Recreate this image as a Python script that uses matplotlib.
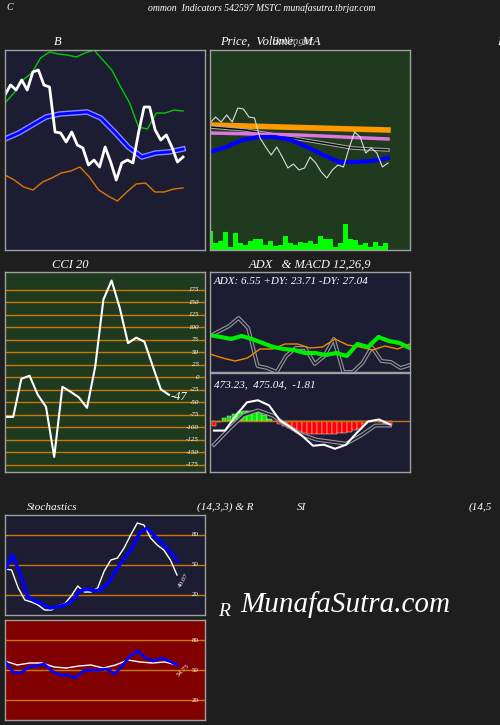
import numpy as np
import matplotlib
matplotlib.use("Agg")
import matplotlib.pyplot as plt

FONT = "Liberation Serif"
BG = "#1e1e1e"; NAVY = "#1c1c33"; GREEN = "#1f3a1f"; MAROON = "#800000"

# ---- data ----
bb_close = [155,165,160,170,160,178,180,165,163,118,117,108,118,105,102,85,90,83,103,88,70,87,90,87,117,143,143,120,110,115,103,88,93]
bb_upper = [147,157,170,177,192,198,196,195,193,197,200,190,180,163,147,123,121,137,137,140,139]
bb_mid = [111,117,125,133,136,137,138,132,118,103,93,97,98,101]
bb_lower = [75,70,63,60,68,72,77,79,83,73,60,54,49,58,66,67,58,58,61,62]

pr_close = [127,133,128,135,128,142,141,133,132,112,103,95,103,93,82,86,80,82,93,87,78,72,80,85,83,102,118,113,97,102,97,83,87]
pr_orange = [125,124,123,122,121,120]
pr_pink = [117,116,115,113,111,115-0.5][:5]
pr_black = [123,120,114,108,102,100]
pr_blue = [98,103,110,113,113,110,103,95,88,88,89,92]
volume = [19,7,9,18,3,17,7,5,9,11,11,5,9,4,5,14,7,5,8,7,9,6,14,11,11,3,7,26,11,10,5,7,3,8,4,7]

cci = [-79,-79,-3,3,-35,-59,-159,-19,-29,-40,-61,21,155,193,138,68,79,71,23,-24,-35]
cci_ticks = [175,150,125,100,75,50,25,0,-25,-50,-75,-100,-125,-150,-175]

adx_green = [37,35,33,36,33,29,25,23,22,19,19,17,19,16,28,25,35,31,29,24]
adx_orange = [18,14,11,14,23,23,28,28,24,25,33,27,25,22,26,23,28]
adx_white = [36,41,46,54,44,6,4,0,16,24,24,8,16,33,0,0,9,25,11,10,4,7]

macd_line = [-9,-9,6,19,21,16,1,-6,-14,-24,-23,-27,-23,-11,0,2,-3]
macd_signal = [-23,-8,6,11,6,-4,-13,-18,-20,-22,-14,-4,-4]
macd_hist = [-4,-1,3,5,7,9,10,10,10,9,6,2,0,-2,-4,-6,-8,-10,-11,-12,-12,-12,-12,-12,-12,-11,-11,-10,-8,-7,-2,-1,0,-1,-2,-3]

stoch_k = [46,45,27,15,13,10,5,5,9,11,19,29,23,23,27,44,55,57,67,80,92,90,77,70,65,55,40]
stoch_d = [45,60,42,19,14,11,7,8,10,14,24,26,24,26,34,47,57,67,82,87,79,72,64,54]
rsi_w = [59,55,57,57,53,52,54,55,52,55,60,58,57,58,55]
rsi_b = [59,48,47,53,54,56,49,45,45,42,49,50,50,51,46,54,64,69,62,59,62,59,55]
levels = [80,50,20]

fig = plt.figure(figsize=(5, 7.25), dpi=100, facecolor=BG)

def ax_at(x0, y0, x1, y1, fc):
    ax = fig.add_axes([x0/500, 1-y1/725, (x1-x0)/500, (y1-y0)/725], facecolor=fc)
    ax.set_xticks([]); ax.set_yticks([])
    for s in ax.spines.values():
        s.set_color("#a0a0a0"); s.set_linewidth(1)
    ax.set_xlim(0, 1)
    return ax

def xs(n, a=0.0, b=0.89):
    return np.linspace(a, b, n)

def dbl(ax, x, y, lw=1.2):
    ax.plot(x, y, color="#999999", lw=lw+1.6)
    ax.plot(x, y, color="#1c1c33", lw=lw)

def txt(x, y, s, size=9, color="white", ha="center", **kw):
    fig.text(x/500, 1-y/725, s, fontsize=size, color=color, ha=ha, va="center",
             family=FONT, style="italic", **kw)

txt(10, 8, "C", 7); txt(262, 8, "ommon  Indicators 542597 MSTC munafasutra.tbrjar.com", 7)
txt(58, 42, "B"); txt(293, 42, "Bollinger", 8, color="#bbbbbb")
txt(270, 42, "Price,  Volume,  MA"); txt(498, 42, "B", ha="left")
txt(70, 265, "CCI 20"); txt(310, 265, "ADX   & MACD 12,26,9")
txt(52, 507, "Stochastics", 8); txt(225, 507, "(14,3,3) & R", 8)
txt(302, 507, "SI", 8); txt(480, 507, "(14,5", 8)
txt(218, 612, "R", 14, ha="left")
fig.text(345/500, 1-605/725, "MunafaSutra.com", fontsize=21, color="white", ha="center",
         va="center", family=FONT, style="italic")

# BB
ax = ax_at(5, 50, 205, 250, NAVY); ax.set_ylim(0, 200)
ax.plot(xs(len(bb_upper)), bb_upper, color="#00cc00", lw=1)
ax.plot(xs(len(bb_lower)), bb_lower, color="#dd7700", lw=1)
ax.plot(xs(len(bb_mid)), bb_mid, color="#8888ff", lw=4)
ax.plot(xs(len(bb_mid)), bb_mid, color="#0000ff", lw=2)
ax.plot(xs(len(bb_close)), bb_close, color="white", lw=2)

# Price
ax = ax_at(210, 50, 410, 250, GREEN); ax.set_ylim(0, 200)
ax.bar(xs(len(volume), 0.0, 0.875), volume, width=0.025, color="#00ff00")
ax.plot(xs(len(pr_orange)), pr_orange, color="#ff9900", lw=4)
ax.plot(xs(len(pr_black)), pr_black, color="#aaaaaa", lw=2.5)
ax.plot(xs(len(pr_black)), pr_black, color="black", lw=1)
ax.plot(xs(len(pr_pink)), pr_pink, color="#dd77dd", lw=2.5)
ax.plot(xs(len(pr_blue)), pr_blue, color="#0000ff", lw=3)
ax.plot(xs(len(pr_close)), pr_close, color="#dddddd", lw=0.8)

# CCI
ax = ax_at(5, 272, 205, 472, GREEN); ax.set_ylim(-189, 210)
for t in cci_ticks:
    ax.axhline(t, color="#cc7700", lw=1)
    ax.text(0.97, t, str(t), color="white", fontsize=5, ha="right", va="center",
            family=FONT, style="italic")
ax.plot(xs(len(cci), 0, 0.82), cci, color="white", lw=1.5)
ax.text(0.87, cci[-1]-5, "-47", color="white", fontsize=9, ha="center", va="center",
        family=FONT, style="italic")

# ADX
ax = ax_at(210, 272, 410, 372, NAVY); ax.set_ylim(0, 100)
dbl(ax, xs(len(adx_white), 0, 1), adx_white)
ax.plot(xs(len(adx_orange), 0, 1), adx_orange, color="#ee8800", lw=1)
ax.plot(xs(len(adx_green), 0, 1), adx_green, color="#00ee00", lw=3)
ax.text(0.02, 0.9, "ADX: 6.55 +DY: 23.71 -DY: 27.04", transform=ax.transAxes, color="white",
        fontsize=8, ha="left", va="center", family=FONT, style="italic")

# MACD
ax = ax_at(210, 373, 410, 472, NAVY); ax.set_ylim(-50, 48)
ax.axhline(0, color="#cc7700", lw=1)
hx = xs(len(macd_hist), 0.02, 0.9)
ax.bar(hx, macd_hist, width=0.024, color=["#00ee00" if v > 0 else "#ff0000" for v in macd_hist],
       edgecolor="white", linewidth=0.3)
dbl(ax, xs(len(macd_signal), 0.02, 0.9), macd_signal)
ax.plot(xs(len(macd_line), 0.02, 0.9), macd_line, color="white", lw=1.5)
ax.text(0.02, 0.88, "473.23,  475.04,  -1.81", transform=ax.transAxes, color="white",
        fontsize=8, ha="left", va="center", family=FONT, style="italic")

# Stoch
ax = ax_at(5, 515, 205, 615, NAVY); ax.set_ylim(0, 100)
for l in levels:
    ax.axhline(l, color="#cc7700", lw=1)
    ax.text(0.97, l, str(l), color="white", fontsize=5, ha="right", va="center", family=FONT)
ax.plot(xs(len(stoch_k), 0, 0.86), stoch_k, color="white", lw=1)
ax.plot(xs(len(stoch_d), 0, 0.86), stoch_d, color="#0000ff", lw=2.5)
ax.text(0.89, 35, "40.07", color="white", fontsize=5, rotation=60, ha="center", va="center", family=FONT)

# RSI
ax = ax_at(5, 620, 205, 720, MAROON); ax.set_ylim(0, 100)
for l in levels:
    ax.axhline(l, color="#cc7700", lw=1)
    ax.text(0.97, l, str(l), color="white", fontsize=5, ha="right", va="center", family=FONT)
ax.plot(xs(len(rsi_w), 0, 0.86), rsi_w, color="white", lw=1)
ax.plot(xs(len(rsi_b), 0, 0.86), rsi_b, color="#0000ff", lw=2)
ax.text(0.89, 50, "54.75", color="white", fontsize=5, rotation=45, ha="center", va="center", family=FONT)

fig.savefig("out.png", dpi=100, facecolor=BG)
